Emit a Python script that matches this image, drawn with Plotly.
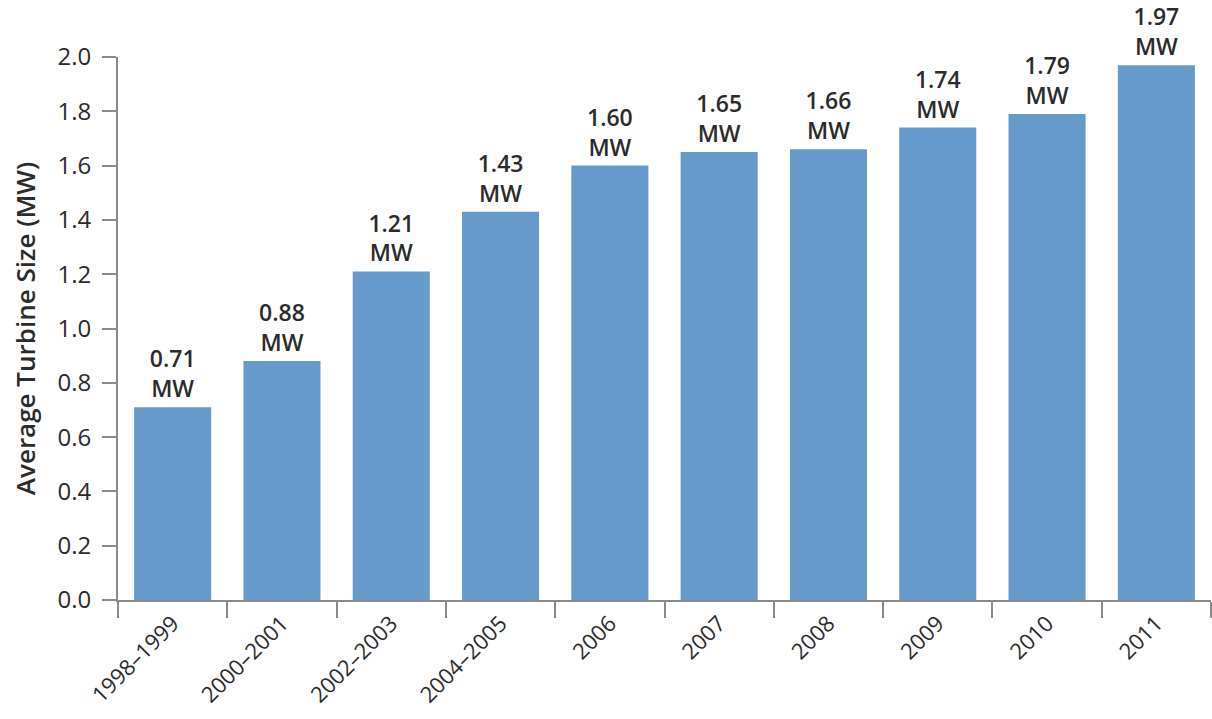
import plotly.graph_objects as go

periods = ["1998–1999", "2000–2001", "2002–2003", "2004–2005", "2006",
           "2007", "2008", "2009", "2010", "2011"]
avg_size_mw = [0.71, 0.88, 1.21, 1.43, 1.60, 1.65, 1.66, 1.74, 1.79, 1.97]

labels = [f"{v:.2f}<br>MW" for v in avg_size_mw]

FONT = "Open Sans"
AXIS = "#8a8a8a"
TEXT = "#2b2b2b"

fig = go.Figure(go.Bar(
    x=periods,
    y=avg_size_mw,
    text=labels,
    textposition="outside",
    textfont=dict(family=FONT, size=23, color=TEXT, weight=600),
    marker=dict(color="#669aca", line=dict(width=0)),
    cliponaxis=False,
    hoverinfo="skip",
))

fig.update_layout(
    width=1212, height=719,
    margin=dict(l=118, r=1, t=57, b=119),
    plot_bgcolor="white", paper_bgcolor="white",
    bargap=0.295,
    showlegend=False,
    font=dict(family=FONT, color=TEXT),
    xaxis=dict(
        type="category",
        showline=True, linecolor=AXIS, linewidth=2,
        ticks="outside", tickson="boundaries", ticklen=16,
        tickcolor=AXIS, tickwidth=2,
        tickangle=-45,
        tickfont=dict(size=22, color=TEXT),
        showgrid=False,
    ),
    yaxis=dict(
        range=[0, 2.0], dtick=0.2, tickformat=".1f",
        showline=True, linecolor=AXIS, linewidth=2,
        ticks="outside", ticklen=14, tickcolor=AXIS, tickwidth=2,
        ticklabelstandoff=6,
        tickfont=dict(size=24, color=TEXT),
        showgrid=False, zeroline=False,
        title=dict(text="Average Turbine Size (MW)",
                   font=dict(size=26, color=TEXT, weight=600), standoff=14),
    ),
)

fig.write_html("out.html")
